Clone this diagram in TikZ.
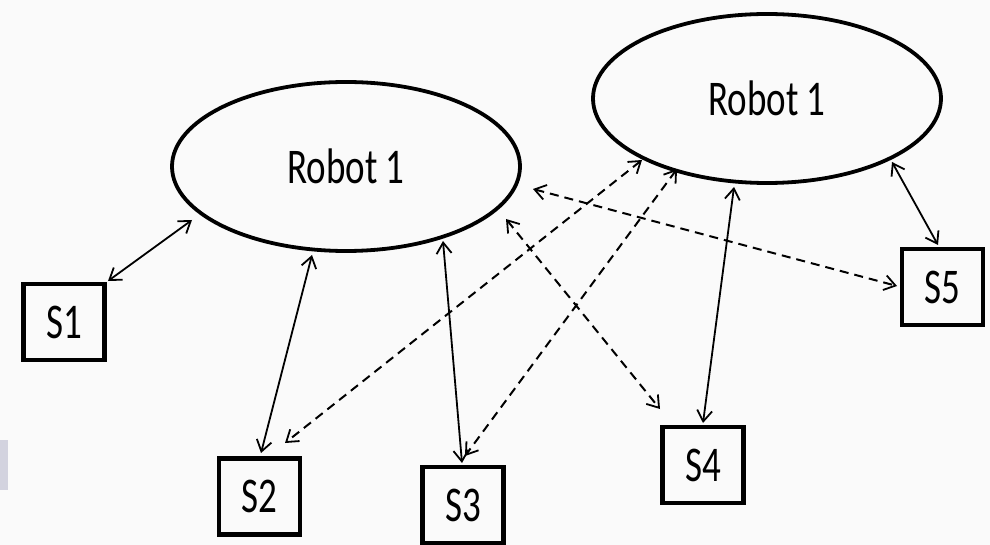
\documentclass[tikz,border=0pt]{standalone}
\usepackage{fontspec}
\setmainfont{Carlito}
\usetikzlibrary{arrows.meta,calc,shapes.geometric}
\begin{document}
\begin{tikzpicture}[x=1pt,y=-1pt,
  robot/.style={draw, ellipse, line width=3.8pt, minimum width=348pt, minimum height=169pt, inner sep=0pt, font=\fontsize{37}{40}\selectfont},
  sbox/.style={draw, rectangle, line width=4.6pt, minimum width=81pt, minimum height=76pt, inner sep=0pt, font=\fontsize{37}{40}\selectfont},
  tipb/.tip={Straight Barb[length=11pt,width=15pt,line width=1.8pt]},
  link/.style={line width=1.8pt, tipb-tipb},
  dlink/.style={line width=2pt, tipb-tipb, dash pattern=on 9pt off 6pt}]
\fill[gray!4] (0,0) rectangle (990,545);
\useasboundingbox (0,0) rectangle (990,545);
\fill[blue!15!gray!30] (0,440) rectangle (8,490);

\node[robot] (L) at (346,166.5) {\scalebox{1}[1.35]{Robot 1}};
\node[robot] (R) at (767,98.5) {\scalebox{1}[1.35]{Robot 1}};

\node[sbox] (S1) at (64,322) {\scalebox{1}[1.35]{S1}};
\node[sbox] (S2) at (259.5,496.5) {\scalebox{1}[1.35]{S2}};
\node[sbox] (S3) at (463,505) {\scalebox{1}[1.35]{S3}};
\node[sbox] (S4) at (703,465) {\scalebox{1}[1.35]{S4}};
\node[sbox] (S5) at (942.5,287) {\scalebox{1}[1.35]{S5}};

% solid links
\draw[link] ($(L.center)+(-154,53.5)$) -- ($(S1.center)+(44,-41)$);
\draw[link] ($(L.center)+(-34,88.5)$) -- ($(S2.center)+(1.5,-43.5)$);
\draw[link] ($(L.center)+(97,74.5)$) -- ($(S3.center)+(-1,-42)$);
\draw[link] ($(R.center)+(-33,88.5)$) -- ($(S4.center)+(0,-42)$);
\draw[link] ($(R.center)+(125,63.5)$) -- ($(S5.center)+(-4.5,-42)$);

% dashed links
\draw[dlink] ($(R.center)+(-125,61.5)$) -- ($(S2.center)+(25.5,-53.5)$);
\draw[dlink] ($(R.center)+(-90,70.5)$) -- ($(S3.center)+(2,-49)$);
\draw[dlink] ($(L.center)+(160,52.5)$) -- ($(S4.center)+(-43,-56)$);
\draw[dlink] ($(L.center)+(187,22.5)$) -- ($(S5.center)+(-45.5,-1)$);
\end{tikzpicture}
\end{document}
